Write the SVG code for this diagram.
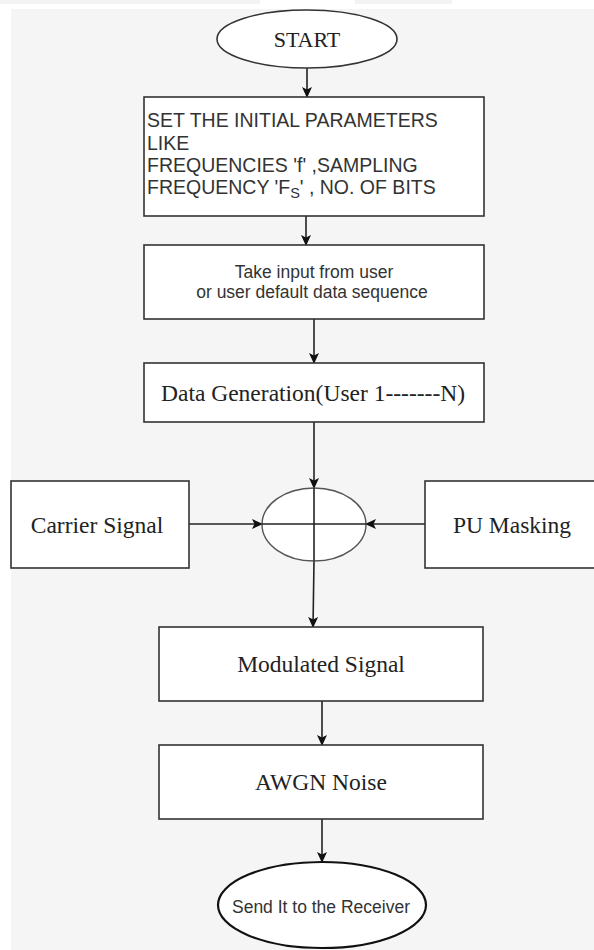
<svg xmlns="http://www.w3.org/2000/svg" width="594" height="950" viewBox="0 0 594 950">
<style>
.box{fill:#ffffff;stroke:#333333;stroke-width:1.6}
.ell{fill:#ffffff;stroke:#333333;stroke-width:1.6}
.sum{fill:#ffffff;stroke:#555555;stroke-width:1.4}
.conn{stroke:#222222;stroke-width:1.6;fill:none}
.serif{font-family:"Liberation Serif","Times New Roman",serif;fill:#222222}
.sans{font-family:"Liberation Sans",Arial,sans-serif;fill:#333333}
</style>
<defs>
<marker id="ah" markerWidth="11" markerHeight="11" refX="10" refY="5.5" orient="auto" markerUnits="userSpaceOnUse">
<path d="M0,0.5 L11,5.5 L0,10.5 L2.5,5.5 Z" fill="#111111"/>
</marker>
</defs>
<rect x="0" y="0" width="594" height="950" fill="#ffffff"/>
<rect x="0" y="0" width="260" height="4" fill="#f3f3f3"/>
<rect x="355" y="0" width="97" height="4" fill="#f3f3f3"/>
<rect x="11" y="9" width="583" height="941" fill="#f5f5f5"/>

<g id="connectors">
<line class="conn" x1="307" y1="68" x2="307" y2="97" marker-end="url(#ah)"/>
<line class="conn" x1="306" y1="216" x2="306" y2="245" marker-end="url(#ah)"/>
<line class="conn" x1="314" y1="319" x2="314" y2="363" marker-end="url(#ah)"/>
<line class="conn" x1="314" y1="422" x2="314" y2="488" marker-end="url(#ah)"/>
<line class="conn" x1="189" y1="524" x2="262" y2="524" marker-end="url(#ah)"/>
<line class="conn" x1="425" y1="524" x2="366" y2="524" marker-end="url(#ah)"/>
<path class="conn" d="M314,561 L313,627" marker-end="url(#ah)"/>
<line class="conn" x1="322" y1="701" x2="322" y2="745" marker-end="url(#ah)"/>
<line class="conn" x1="322" y1="819" x2="322" y2="862" marker-end="url(#ah)"/>
</g>

<g id="start">
<ellipse class="ell" cx="307" cy="39" rx="90" ry="29"/>
<text class="serif" x="307" y="47" font-size="22" text-anchor="middle">START</text>
</g>

<g id="params">
<rect class="box" x="144" y="97" width="340" height="119"/>
<text class="sans" x="147" y="127" font-size="19.5">SET THE INITIAL PARAMETERS</text>
<text class="sans" x="147" y="150" font-size="19.5">LIKE</text>
<text class="sans" x="147" y="172" font-size="19.5">FREQUENCIES 'f' ,SAMPLING</text>
<text class="sans" x="147" y="194" font-size="19.5">FREQUENCY 'F<tspan font-size="14.5" dy="4">S</tspan><tspan dy="-4">' , NO. OF BITS</tspan></text>
</g>

<g id="input">
<rect class="box" x="144" y="245" width="340" height="74"/>
<text class="sans" x="314" y="278" font-size="17.5" text-anchor="middle">Take input from user</text>
<text class="sans" x="312" y="298" font-size="17.5" text-anchor="middle">or user default data sequence</text>
</g>

<g id="datagen">
<rect class="box" x="144" y="363" width="340" height="59"/>
<text class="serif" x="313" y="401" font-size="23.5" text-anchor="middle">Data Generation(User 1-------N)</text>
</g>

<g id="carrier">
<rect class="box" x="11" y="481" width="178" height="87"/>
<text class="serif" x="97" y="533" font-size="23.5" text-anchor="middle">Carrier Signal</text>
</g>

<g id="pumask">
<rect class="box" x="425" y="481" width="180" height="87"/>
<text class="serif" x="512" y="533" font-size="23.5" text-anchor="middle">PU Masking</text>
</g>

<g id="sum">
<ellipse class="sum" cx="314" cy="524.5" rx="52" ry="36.5"/>
<line class="conn" x1="262" y1="524" x2="366" y2="524"/>
<line class="conn" x1="314" y1="488" x2="314" y2="561"/>
</g>

<g id="modulated">
<rect class="box" x="159" y="627" width="324" height="74"/>
<text class="serif" x="321" y="672" font-size="23.5" text-anchor="middle">Modulated Signal</text>
</g>

<g id="awgn">
<rect class="box" x="159" y="745" width="324" height="74"/>
<text class="serif" x="321" y="790" font-size="23.5" text-anchor="middle">AWGN Noise</text>
</g>

<g id="receiver">
<ellipse cx="322" cy="905" rx="104" ry="43" fill="#ffffff" stroke="#111111" stroke-width="2.2"/>
<text class="sans" x="321" y="913" font-size="17.5" text-anchor="middle">Send It to the Receiver</text>
</g>
</svg>
